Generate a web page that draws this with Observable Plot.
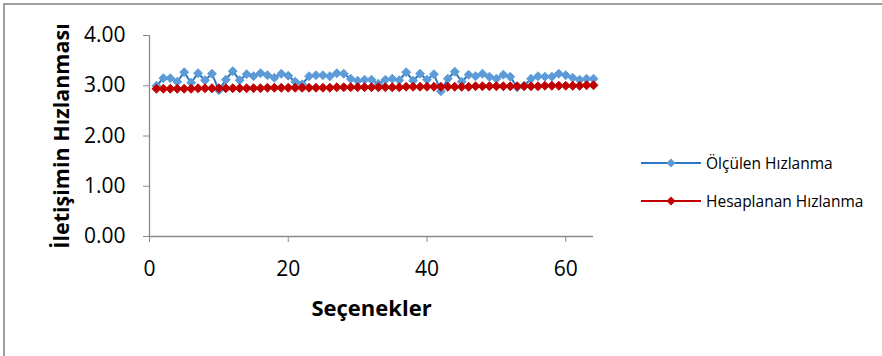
<!DOCTYPE html>
<html>
<head>
<meta charset="utf-8">
<script src="https://cdn.jsdelivr.net/npm/d3@7"></script>
<script src="https://cdn.jsdelivr.net/npm/@observablehq/plot@0.6"></script>
<style>
  html, body { margin: 0; padding: 0; background: #fff; }
  #wrap { position: relative; width: 882px; height: 356px; overflow: hidden; font-family: "Open Sans", "Liberation Sans", sans-serif; }
  #frame { position: absolute; left: 3px; top: 3px; width: 900px; height: 400px; border-top: 2px solid #a0a0a0; border-left: 2px solid #a0a0a0; pointer-events: none; }
  #legend { position: absolute; left: 641px; top: 144px; font-size: 15.5px; color: #000; }
  .item { display: flex; align-items: center; height: 38px; }
  .item svg { margin-right: 5px; }
</style>
</head>
<body>
<div id="wrap">
  <div id="frame"></div>
  <div id="chart"></div>
  <div id="legend"></div>
</div>
<script>
// Measured and calculated acceleration for each option
const secenekler = d3.range(1, 65);
const olculen = [
  3.00, 3.15, 3.15, 3.08, 3.27, 3.06, 3.25, 3.11, 3.24, 2.91,
  3.12, 3.29, 3.11, 3.23, 3.19, 3.25, 3.21, 3.16, 3.24, 3.20,
  3.08, 3.03, 3.19, 3.21, 3.21, 3.19, 3.25, 3.24, 3.14, 3.10,
  3.12, 3.12, 3.04, 3.12, 3.14, 3.11, 3.27, 3.10, 3.24, 3.12,
  3.23, 2.89, 3.14, 3.28, 3.08, 3.22, 3.19, 3.24, 3.18, 3.14,
  3.22, 3.18, 2.97, 3.00, 3.14, 3.19, 3.18, 3.18, 3.24, 3.21,
  3.16, 3.12, 3.14, 3.14
];
const hesaplanan = [
  2.94, 2.94, 2.94, 2.94, 2.94, 2.94, 2.95, 2.95, 2.95, 2.95,
  2.95, 2.95, 2.95, 2.95, 2.95, 2.95, 2.96, 2.96, 2.96, 2.96,
  2.96, 2.96, 2.96, 2.96, 2.96, 2.96, 2.97, 2.97, 2.97, 2.97,
  2.97, 2.97, 2.97, 2.97, 2.97, 2.97, 2.98, 2.98, 2.98, 2.98,
  2.98, 2.98, 2.98, 2.98, 2.98, 2.98, 2.99, 2.99, 2.99, 2.99,
  2.99, 2.99, 2.99, 2.99, 2.99, 2.99, 3.00, 3.00, 3.00, 3.00,
  3.00, 3.00, 3.01, 3.01
];
const xTicks = [0, 20, 40, 60];
const yTicks = [0, 1, 2, 3, 4];

const series = [
  {name: "Ölçülen Hızlanma", values: olculen, line: "#2a78c4", marker: "#5c9bd8"},
  {name: "Hesaplanan Hızlanma", values: hesaplanan, line: "#c00000", marker: "#c00000"}
];

const rows = series.flatMap(s => secenekler.map((x, i) => ({x, y: s.values[i], s: s.name})));
const axisColor = "#8a8a8a";

const chart = Plot.plot({
  width: 882,
  height: 356,
  marginLeft: 149,
  marginRight: 289,
  marginTop: 35,
  marginBottom: 120,
  style: {fontFamily: "'Open Sans', 'Liberation Sans', sans-serif", fontSize: "21px", background: "transparent", overflow: "visible"},
  x: {domain: [0, 64], ticks: xTicks, tickFormat: d => d, label: null},
  y: {domain: [0, 4], ticks: yTicks, tickFormat: d => d.toFixed(2), label: null},
  marks: [
    Plot.axisX({ticks: xTicks, tickSize: 6, tickPadding: 19, fontSize: 21, stroke: axisColor, color: "#000", tickFormat: d => d}),
    Plot.axisY({ticks: yTicks, tickSize: 6, tickPadding: 18, fontSize: 21, stroke: axisColor, color: "#000", tickFormat: d => d.toFixed(2)}),
    Plot.ruleY([0], {stroke: axisColor, strokeWidth: 1.3}),
    Plot.ruleX([0], {stroke: axisColor, strokeWidth: 1.3}),
    ...series.map(s => Plot.line(rows.filter(r => r.s === s.name), {x: "x", y: "y", stroke: s.line, strokeWidth: 2})),
    ...series.map(s => Plot.dot(rows.filter(r => r.s === s.name), {x: "x", y: "y", symbol: "diamond2", r: 4, fill: s.marker, stroke: s.marker, strokeWidth: 1})),
    Plot.text(["Seçenekler"], {frameAnchor: "bottom", dy: 79, fontSize: 22, fontWeight: "bold", fill: "#000"}),
    Plot.text(["İletişimin Hızlanması"], {frameAnchor: "left", textAnchor: "middle", dx: -87, rotate: -90, fontSize: 21.5, fontWeight: "bold", fill: "#000"})
  ]
});
document.getElementById("chart").appendChild(chart);

// Legend entries with line-and-diamond swatches
const legend = d3.select("#legend");
for (const s of series) {
  const item = legend.append("div").attr("class", "item");
  const sw = item.append("svg").attr("width", 60).attr("height", 12);
  sw.append("line").attr("x1", 0).attr("x2", 60).attr("y1", 6).attr("y2", 6).attr("stroke", s.line).attr("stroke-width", 2);
  sw.append("path").attr("d", "M30,1.5L34.5,6L30,10.5L25.5,6Z").attr("fill", s.marker);
  item.append("span").text(s.name);
}
</script>
</body>
</html>
